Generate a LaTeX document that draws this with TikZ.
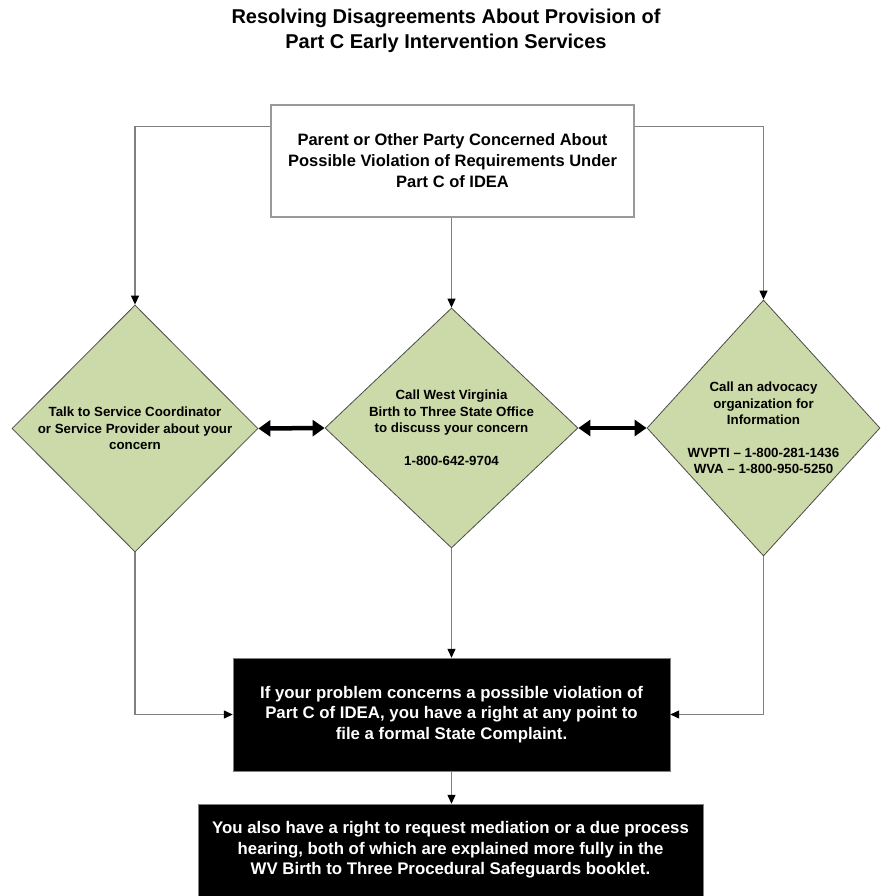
\documentclass[tikz,border=0pt]{standalone}
\usepackage{fontspec}
\setmainfont{Liberation Sans}
\usepackage{tikz}
\usetikzlibrary{positioning,shapes.geometric,arrows.meta}
\definecolor{dgreen}{RGB}{204,217,168}
\definecolor{lgray}{RGB}{128,128,128}

\begin{document}
\begin{tikzpicture}[x=1pt,y=-1pt,
  dia/.style={diamond,draw=gray!60!black,fill=dgreen,inner sep=0pt,line width=0.8pt},
  dtxt/.style={align=center,inner sep=0pt,font=\fontsize{13.3}{16.5}\selectfont\bfseries},
  wbox/.style={draw=lgray!80,line width=1.5pt,minimum width=363pt,minimum height=112pt,inner sep=0pt,align=center,font=\fontsize{16.5}{21}\selectfont\bfseries},
  blackbox/.style={draw=gray,fill=black,text=white,inner sep=0pt,align=center,font=\fontsize{16.8}{20.5}\selectfont\bfseries},
  conn/.style={draw=lgray,line width=1.2pt,-{Triangle[length=9pt,width=8pt,color=black]}},
  both/.style={line width=4.5pt,{Triangle[length=12pt,width=16pt]}-{Triangle[length=12pt,width=16pt]}}]
  \useasboundingbox (0,0) rectangle (880,896);

  \node[align=center,font=\fontsize{20}{25}\selectfont\bfseries] (title) at (446,31)
    {Resolving Disagreements About Provision of\\Part C Early Intervention Services};

  \node[wbox] (party) at (452.5,161) {Parent or Other Party Concerned About\\Possible Violation of Requirements Under\\Part C of IDEA};

  % the three ways to go
  \node[dia,minimum width=246pt,minimum height=247pt] (coord) at (135,428.5) {};
  \node[dia,minimum width=253pt,minimum height=240pt] (state) at (451.5,428) {};
  \node[dia,minimum width=233pt,minimum height=256pt] (advoc) at (763.5,428) {};

  \node[dtxt] (coordtxt) at (coord) {Talk to Service Coordinator\\or Service Provider about your\\concern};
  \node[dtxt] (statetxt) at (state) {Call West Virginia\\Birth to Three State Office\\to discuss your concern\\[16.5pt]1-800-642-9704};
  \node[dtxt] (advoctxt) at (advoc) {Call an advocacy\\organization for\\Information\\[16pt]WVPTI – 1-800-281-1436\\WVA – 1-800-950-5250};

  \node[blackbox,minimum width=437pt,minimum height=113pt] (compl) at (451.5,714.5)
    {If your problem concerns a possible violation of\\Part C of IDEA, you have a right at any point to\\file a formal State Complaint.};
  \node[blackbox,minimum width=505pt,minimum height=92pt] (medi) at (450.5,850)
    {You also have a right to request mediation or a due process\\hearing, both of which are explained more fully in the\\WV Birth to Three Procedural Safeguards booklet.};

  \draw[conn] ([yshift=-22pt]party.north west) -| (coord.north);
  \draw[conn] ([yshift=-22pt]party.north east) -| (advoc.north);
  \draw[conn] (state.north |- party.south) -- (state.north);

  \draw[both] (coord.east) -- (state.west);
  \draw[both] (state.east) -- (advoc.west);

  \draw[conn] (coord.south) |- (compl.west);
  \draw[conn] (advoc.south) |- (compl.east);
  \draw[conn] (state.south) -- (state.south |- compl.north);
  \draw[conn] (compl.south) -- (compl.south |- medi.north);
\end{tikzpicture}
\end{document}
